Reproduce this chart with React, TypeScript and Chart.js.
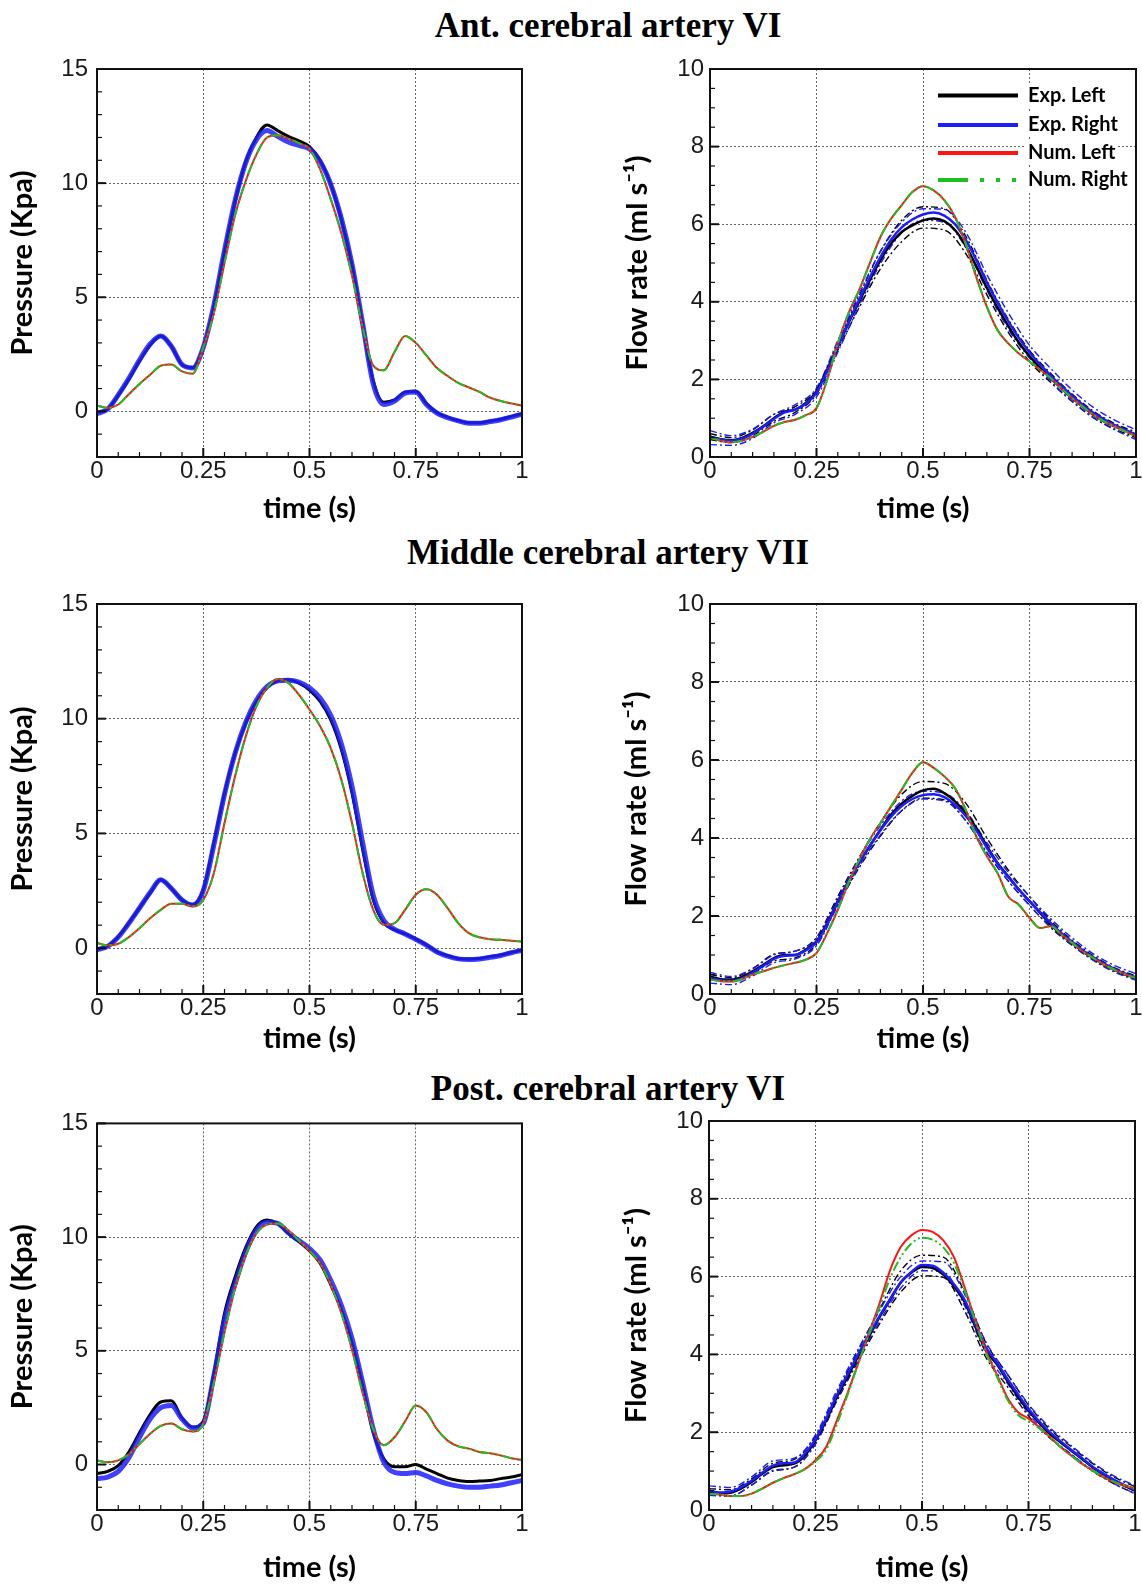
import React, { useEffect, useRef } from 'react';
import { Chart, registerables } from 'chart.js';
Chart.register(...registerables);

// ---------------- data ----------------
const TIME = [0, 0.025, 0.05, 0.075, 0.1, 0.125, 0.15, 0.175, 0.2, 0.225, 0.25, 0.275, 0.3, 0.325, 0.35, 0.375, 0.4, 0.425, 0.45, 0.475, 0.5, 0.525, 0.55, 0.575, 0.6, 0.625, 0.65, 0.675, 0.7, 0.725, 0.75, 0.775, 0.8, 0.825, 0.85, 0.875, 0.9, 0.925, 0.95, 0.975, 1];
const TIME_BAND = [0, 0.05, 0.1, 0.15, 0.2, 0.25, 0.3, 0.35, 0.4, 0.45, 0.5, 0.55, 0.6, 0.65, 0.7, 0.75, 0.8, 0.85, 0.9, 0.95, 1];

const TIME_TICKS = [0, 0.25, 0.5, 0.75, 1];
const PRESSURE_TICKS = [0, 5, 10, 15];
const FLOW_TICKS = [0, 2, 4, 6, 8, 10];

const ROW_TITLES = ['Ant. cerebral artery VI', 'Middle cerebral artery VII', 'Post. cerebral artery VI'];
const LEGEND_LABELS = ['Exp. Left', 'Exp. Right', 'Num. Left', 'Num. Right'];
const X_TITLE = 'time (s)';
const P_TITLE = 'Pressure (Kpa)';
const F_TITLE = 'Flow rate (ml s\u207B\u00B9)';

// Row 1 pressure
const P1_EXP_LEFT = [-0.05, 0.1, 0.7, 1.4, 2.2, 2.9, 3.3, 2.85, 2.05, 1.92, 2.8, 4.6, 7.0, 9.2, 10.95, 12.0, 12.55, 12.3, 12.05, 11.85, 11.6, 11.0, 9.95, 8.4, 6.4, 3.8, 1.35, 0.4, 0.5, 0.85, 0.88, 0.35, -0.05, -0.25, -0.4, -0.5, -0.5, -0.42, -0.35, -0.22, -0.1];
const P1_EXP_RIGHT = [-0.1, 0.1, 0.72, 1.45, 2.25, 2.95, 3.3, 2.85, 2.05, 1.9, 2.8, 4.65, 7.05, 9.25, 10.9, 11.9, 12.3, 12.05, 11.8, 11.65, 11.5, 10.95, 9.95, 8.45, 6.45, 3.85, 1.2, 0.3, 0.45, 0.8, 0.85, 0.3, -0.08, -0.28, -0.42, -0.52, -0.52, -0.45, -0.37, -0.25, -0.12];
const P1_NUM_LEFT = [0.25, 0.15, 0.3, 0.75, 1.2, 1.6, 2.0, 2.05, 1.75, 1.65, 2.8, 4.3, 6.5, 8.6, 10.1, 11.25, 12.0, 12.1, 11.95, 11.75, 11.5, 10.6, 9.3, 7.8, 5.95, 3.7, 2.0, 1.8, 2.6, 3.3, 3.0, 2.45, 1.9, 1.55, 1.25, 1.05, 0.85, 0.6, 0.45, 0.35, 0.25];
const P1_NUM_RIGHT = [0.25, 0.15, 0.3, 0.75, 1.2, 1.6, 2.0, 2.05, 1.75, 1.65, 2.8, 4.3, 6.5, 8.6, 10.1, 11.25, 12.0, 12.1, 11.95, 11.75, 11.5, 10.6, 9.3, 7.8, 5.95, 3.7, 2.0, 1.8, 2.6, 3.3, 3.0, 2.45, 1.9, 1.55, 1.25, 1.05, 0.85, 0.6, 0.45, 0.35, 0.25];

// Row 2 pressure
const P2_EXP_LEFT = [-0.05, 0.1, 0.5, 1.1, 1.75, 2.4, 2.98, 2.6, 2.1, 1.9, 2.55, 4.6, 6.75, 8.5, 9.8, 10.75, 11.35, 11.65, 11.7, 11.55, 11.25, 10.75, 9.95, 8.65, 6.75, 4.3, 2.1, 1.1, 0.8, 0.62, 0.4, 0.15, -0.15, -0.33, -0.45, -0.47, -0.45, -0.37, -0.3, -0.18, -0.08];
const P2_EXP_RIGHT = [-0.08, 0.08, 0.48, 1.08, 1.75, 2.42, 2.98, 2.6, 2.1, 1.88, 2.5, 4.5, 6.7, 8.5, 9.85, 10.8, 11.4, 11.65, 11.68, 11.6, 11.35, 10.9, 10.15, 8.9, 7.05, 4.6, 2.3, 1.2, 0.82, 0.62, 0.38, 0.13, -0.17, -0.35, -0.47, -0.5, -0.47, -0.4, -0.32, -0.2, -0.1];
const P2_NUM_LEFT = [0.22, 0.12, 0.19, 0.48, 0.87, 1.3, 1.67, 1.93, 1.93, 1.82, 2.1, 3.27, 5.45, 7.5, 9.23, 10.54, 11.34, 11.73, 11.56, 11.05, 10.4, 9.67, 8.72, 7.34, 5.45, 3.27, 1.67, 1.02, 1.09, 1.67, 2.33, 2.57, 2.33, 1.74, 1.09, 0.65, 0.47, 0.39, 0.36, 0.32, 0.29];
const P2_NUM_RIGHT = [0.22, 0.12, 0.19, 0.48, 0.87, 1.3, 1.67, 1.93, 1.93, 1.82, 2.1, 3.27, 5.45, 7.5, 9.23, 10.54, 11.34, 11.73, 11.56, 11.05, 10.4, 9.67, 8.72, 7.34, 5.45, 3.27, 1.67, 1.02, 1.09, 1.67, 2.33, 2.57, 2.33, 1.74, 1.09, 0.65, 0.47, 0.39, 0.36, 0.32, 0.29];

// Row 3 pressure
const P3_EXP_LEFT = [-0.4, -0.3, -0.05, 0.55, 1.4, 2.2, 2.75, 2.8, 2.05, 1.65, 1.9, 4.0, 6.65, 8.25, 9.55, 10.45, 10.75, 10.6, 10.15, 9.8, 9.4, 8.85, 7.9, 6.8, 5.35, 3.45, 1.4, 0.25, -0.1, -0.1, 0.0, -0.2, -0.4, -0.6, -0.7, -0.75, -0.73, -0.7, -0.62, -0.55, -0.45];
const P3_EXP_RIGHT = [-0.62, -0.55, -0.3, 0.3, 1.2, 2.0, 2.5, 2.6, 2.0, 1.6, 1.8, 3.9, 6.35, 7.95, 9.35, 10.3, 10.65, 10.6, 10.2, 9.85, 9.5, 9.0, 8.1, 7.0, 5.55, 3.6, 1.55, 0.1, -0.35, -0.4, -0.35, -0.5, -0.7, -0.85, -0.95, -1.0, -1.0, -0.95, -0.9, -0.8, -0.7];
const P3_NUM_LEFT = [0.18, 0.1, 0.18, 0.45, 0.9, 1.35, 1.7, 1.8, 1.55, 1.45, 1.8, 3.6, 5.8, 7.75, 9.2, 10.15, 10.55, 10.6, 10.3, 9.85, 9.4, 8.85, 7.9, 6.65, 5.05, 3.15, 1.55, 0.85, 1.2, 1.9, 2.6, 2.3, 1.55, 1.05, 0.8, 0.7, 0.55, 0.5, 0.4, 0.28, 0.2];
const P3_NUM_RIGHT = [0.18, 0.1, 0.18, 0.45, 0.9, 1.35, 1.7, 1.8, 1.55, 1.45, 1.8, 3.6, 5.8, 7.75, 9.2, 10.15, 10.55, 10.6, 10.3, 9.85, 9.4, 8.85, 7.9, 6.65, 5.05, 3.15, 1.55, 0.85, 1.2, 1.9, 2.6, 2.3, 1.55, 1.05, 0.8, 0.7, 0.55, 0.5, 0.4, 0.28, 0.2];

// Row 1 flow
const F1_EXP_LEFT = [0.53, 0.46, 0.43, 0.49, 0.62, 0.79, 1.0, 1.17, 1.22, 1.39, 1.69, 2.25, 2.85, 3.45, 4.0, 4.56, 5.07, 5.5, 5.8, 5.97, 6.1, 6.15, 6.08, 5.85, 5.45, 4.92, 4.36, 3.85, 3.38, 2.95, 2.6, 2.3, 2.03, 1.77, 1.52, 1.3, 1.09, 0.92, 0.79, 0.68, 0.57];
const F1_EXP_RIGHT = [0.5, 0.45, 0.42, 0.47, 0.6, 0.78, 0.98, 1.15, 1.22, 1.37, 1.66, 2.22, 2.85, 3.47, 4.05, 4.62, 5.15, 5.6, 5.92, 6.12, 6.25, 6.3, 6.22, 6.0, 5.6, 5.08, 4.5, 3.98, 3.5, 3.07, 2.7, 2.38, 2.1, 1.83, 1.58, 1.35, 1.14, 0.97, 0.82, 0.7, 0.58];
const F1_EXP_LEFT_HI = [0.6, 0.5, 0.7, 1.1, 1.3, 1.75, 2.95, 4.15, 5.3, 6.1, 6.45, 6.4, 5.7, 4.55, 3.55, 2.75, 2.15, 1.62, 1.18, 0.86, 0.64];
const F1_EXP_LEFT_LO = [0.45, 0.37, 0.55, 0.92, 1.15, 1.62, 2.75, 3.85, 4.85, 5.55, 5.9, 5.85, 5.25, 4.18, 3.22, 2.46, 1.92, 1.43, 1.01, 0.72, 0.5];
const F1_EXP_RIGHT_HI = [0.68, 0.55, 0.72, 1.1, 1.35, 1.78, 3.0, 4.2, 5.3, 6.05, 6.4, 6.38, 5.8, 4.7, 3.72, 2.88, 2.28, 1.73, 1.28, 0.95, 0.7];
const F1_EXP_RIGHT_LO = [0.32, 0.3, 0.48, 0.88, 1.1, 1.55, 2.7, 3.9, 4.98, 5.78, 6.1, 6.05, 5.4, 4.3, 3.3, 2.55, 1.95, 1.45, 1.02, 0.7, 0.45];
const F1_NUM_LEFT = [0.5, 0.42, 0.38, 0.42, 0.52, 0.65, 0.8, 0.9, 0.96, 1.08, 1.26, 1.99, 2.93, 3.7, 4.3, 4.99, 5.67, 6.14, 6.49, 6.83, 6.98, 6.87, 6.62, 6.19, 5.5, 4.64, 3.87, 3.27, 2.93, 2.67, 2.46, 2.25, 2.03, 1.77, 1.52, 1.3, 1.09, 0.92, 0.79, 0.66, 0.53];
const F1_NUM_RIGHT = [0.5, 0.42, 0.38, 0.42, 0.52, 0.65, 0.8, 0.9, 0.96, 1.08, 1.26, 1.99, 2.93, 3.7, 4.3, 4.99, 5.67, 6.14, 6.49, 6.83, 6.98, 6.87, 6.62, 6.19, 5.5, 4.64, 3.87, 3.27, 2.93, 2.67, 2.46, 2.25, 2.03, 1.77, 1.52, 1.3, 1.09, 0.92, 0.79, 0.66, 0.53];

// Row 2 flow
const F2_EXP_LEFT = [0.45, 0.38, 0.37, 0.44, 0.58, 0.75, 0.92, 1.0, 1.0, 1.14, 1.35, 1.82, 2.38, 2.89, 3.36, 3.79, 4.21, 4.6, 4.88, 5.08, 5.22, 5.26, 5.15, 4.94, 4.64, 4.26, 3.79, 3.36, 3.02, 2.68, 2.38, 2.08, 1.78, 1.52, 1.31, 1.09, 0.92, 0.75, 0.62, 0.5, 0.41];
const F2_EXP_RIGHT = [0.42, 0.35, 0.34, 0.4, 0.55, 0.72, 0.9, 0.98, 1.0, 1.12, 1.33, 1.8, 2.36, 2.88, 3.37, 3.8, 4.2, 4.55, 4.82, 5.0, 5.1, 5.12, 5.05, 4.85, 4.57, 4.2, 3.75, 3.34, 3.0, 2.68, 2.38, 2.1, 1.82, 1.56, 1.34, 1.12, 0.94, 0.78, 0.64, 0.52, 0.43];
const F2_EXP_LEFT_HI = [0.5, 0.42, 0.65, 1.02, 1.1, 1.45, 2.5, 3.5, 4.4, 5.12, 5.45, 5.4, 4.9, 4.0, 3.18, 2.5, 1.88, 1.38, 0.98, 0.67, 0.46];
const F2_EXP_LEFT_LO = [0.4, 0.33, 0.52, 0.85, 0.93, 1.28, 2.28, 3.24, 4.05, 4.7, 5.02, 4.98, 4.45, 3.62, 2.9, 2.28, 1.7, 1.25, 0.87, 0.58, 0.37];
const F2_EXP_RIGHT_HI = [0.55, 0.45, 0.65, 1.0, 1.1, 1.42, 2.45, 3.48, 4.32, 4.95, 5.2, 5.15, 4.7, 3.88, 3.12, 2.5, 1.93, 1.44, 1.03, 0.73, 0.52];
const F2_EXP_RIGHT_LO = [0.28, 0.24, 0.46, 0.8, 0.9, 1.24, 2.27, 3.27, 4.08, 4.7, 5.0, 4.95, 4.45, 3.63, 2.9, 2.27, 1.72, 1.25, 0.86, 0.56, 0.35];
const F2_NUM_LEFT = [0.37, 0.33, 0.32, 0.38, 0.5, 0.58, 0.67, 0.74, 0.8, 0.88, 1.05, 1.56, 2.16, 2.85, 3.44, 3.96, 4.38, 4.81, 5.24, 5.67, 5.94, 5.8, 5.58, 5.28, 4.73, 4.04, 3.53, 3.1, 2.5, 2.29, 1.95, 1.69, 1.74, 1.52, 1.31, 1.09, 0.92, 0.75, 0.62, 0.5, 0.41];
const F2_NUM_RIGHT = [0.37, 0.33, 0.32, 0.38, 0.5, 0.58, 0.67, 0.74, 0.8, 0.88, 1.05, 1.56, 2.16, 2.85, 3.44, 3.96, 4.38, 4.81, 5.24, 5.67, 5.94, 5.8, 5.58, 5.28, 4.73, 4.04, 3.53, 3.1, 2.5, 2.29, 1.95, 1.69, 1.74, 1.52, 1.31, 1.09, 0.92, 0.75, 0.62, 0.5, 0.41];

// Row 3 flow
const F3_EXP_LEFT = [0.46, 0.42, 0.44, 0.55, 0.72, 0.93, 1.1, 1.15, 1.19, 1.4, 1.79, 2.3, 2.9, 3.42, 3.95, 4.45, 4.95, 5.4, 5.85, 6.1, 6.25, 6.22, 6.05, 5.75, 5.35, 4.72, 4.1, 3.76, 3.33, 2.92, 2.55, 2.24, 1.96, 1.74, 1.53, 1.32, 1.1, 0.92, 0.76, 0.62, 0.5];
const F3_EXP_RIGHT = [0.5, 0.45, 0.47, 0.58, 0.75, 0.96, 1.14, 1.2, 1.22, 1.45, 1.82, 2.35, 2.95, 3.48, 4.0, 4.5, 4.98, 5.42, 5.85, 6.12, 6.3, 6.28, 6.1, 5.8, 5.4, 4.78, 4.18, 3.8, 3.38, 2.98, 2.6, 2.28, 2.0, 1.77, 1.55, 1.34, 1.12, 0.94, 0.78, 0.64, 0.52];
const F3_EXP_LEFT_HI = [0.55, 0.52, 0.8, 1.2, 1.3, 1.9, 3.0, 4.1, 5.15, 6.15, 6.55, 6.5, 5.6, 4.3, 3.5, 2.7, 2.08, 1.63, 1.2, 0.85, 0.6];
const F3_EXP_LEFT_LO = [0.38, 0.36, 0.64, 1.0, 1.1, 1.7, 2.8, 3.82, 4.78, 5.6, 6.02, 5.98, 5.12, 3.92, 3.18, 2.42, 1.85, 1.43, 1.0, 0.68, 0.42];
const F3_EXP_RIGHT_HI = [0.62, 0.58, 0.85, 1.26, 1.33, 1.93, 3.07, 4.13, 5.12, 6.0, 6.4, 6.38, 5.55, 4.32, 3.5, 2.72, 2.12, 1.66, 1.22, 0.88, 0.63];
const F3_EXP_RIGHT_LO = [0.38, 0.36, 0.64, 1.02, 1.1, 1.7, 2.83, 3.87, 4.84, 5.7, 6.15, 6.12, 5.25, 4.04, 3.26, 2.48, 1.88, 1.44, 1.02, 0.68, 0.42];
const F3_NUM_LEFT = [0.42, 0.4, 0.36, 0.36, 0.42, 0.55, 0.7, 0.82, 0.92, 1.05, 1.28, 1.62, 2.3, 3.0, 3.76, 4.53, 5.3, 6.16, 6.76, 7.06, 7.2, 7.15, 6.93, 6.5, 5.73, 4.88, 4.1, 3.5, 2.9, 2.52, 2.35, 2.13, 1.88, 1.62, 1.4, 1.19, 1.02, 0.85, 0.72, 0.63, 0.55];
const F3_NUM_RIGHT = [0.42, 0.4, 0.36, 0.36, 0.42, 0.55, 0.7, 0.82, 0.92, 1.05, 1.25, 1.55, 2.2, 2.95, 3.75, 4.5, 5.2, 5.95, 6.5, 6.85, 7.0, 6.95, 6.75, 6.35, 5.65, 4.85, 4.05, 3.45, 2.85, 2.45, 2.28, 2.1, 1.88, 1.62, 1.4, 1.2, 1.02, 0.86, 0.73, 0.63, 0.55];

// ---------------- styles ----------------
const C_BLACK = '#000000';
const C_BLUE = '#1c1cff';
const C_BLUE_P = 'rgba(30,30,255,0.85)';
const C_RED = '#ff1414';
const C_GREEN = '#1fbf1f';
const DASH_NUM_R = [10, 3, 2, 3, 2, 3];
const DASH_BAND = [7, 3, 2, 3];
const FONT_AXIS = 'Lato, "Open Sans", "DejaVu Sans", sans-serif';
const FONT_TICK = '"Liberation Sans", Arial, sans-serif';
const AXIS_TITLE_SIZE = 29;
const TICK_SIZE = 24;

type S = { t: number[]; v: number[]; color: string; width: number; dash?: number[]; order: number };

function pressureSeries(expL: number[], expR: number[], numL: number[], numR: number[]): S[] {
  return [
    { t: TIME, v: numR, color: C_GREEN, width: 2, dash: DASH_NUM_R, order: 1 },
    { t: TIME, v: numL, color: C_RED, width: 2, order: 2 },
    { t: TIME, v: expR, color: C_BLUE_P, width: 5, order: 3 },
    { t: TIME, v: expL, color: C_BLACK, width: 3, order: 4 },
  ];
}

function flowSeries(expL: number[], expR: number[], numL: number[], numR: number[], hiL: number[], loL: number[], hiR: number[], loR: number[]): S[] {
  return [
    { t: TIME, v: numR, color: C_GREEN, width: 2, dash: DASH_NUM_R, order: 1 },
    { t: TIME, v: numL, color: C_RED, width: 2, order: 2 },
    { t: TIME, v: expR, color: C_BLUE, width: 2.5, order: 3 },
    { t: TIME, v: expL, color: C_BLACK, width: 2.5, order: 4 },
    { t: TIME_BAND, v: hiR, color: C_BLUE, width: 1.4, dash: DASH_BAND, order: 5 },
    { t: TIME_BAND, v: loR, color: C_BLUE, width: 1.4, dash: DASH_BAND, order: 6 },
    { t: TIME_BAND, v: hiL, color: C_BLACK, width: 1.4, dash: DASH_BAND, order: 7 },
    { t: TIME_BAND, v: loL, color: C_BLACK, width: 1.4, dash: DASH_BAND, order: 8 },
  ];
}

type PanelSpec = {
  canvas: [number, number, number, number];
  plot: [number, number, number, number];
  kind: 'p' | 'f';
  series: S[];
  xTitleY: number;
  yTitleX: number;
  legend?: boolean;
};

const PANELS: PanelSpec[] = [
  { canvas: [0, 45, 560, 490], plot: [97, 69, 522, 457], kind: 'p', series: pressureSeries(P1_EXP_LEFT, P1_EXP_RIGHT, P1_NUM_LEFT, P1_NUM_RIGHT), xTitleY: 509, yTitleX: 23 },
  { canvas: [600, 45, 550, 490], plot: [710, 69, 1136, 457], kind: 'f', series: flowSeries(F1_EXP_LEFT, F1_EXP_RIGHT, F1_NUM_LEFT, F1_NUM_RIGHT, F1_EXP_LEFT_HI, F1_EXP_LEFT_LO, F1_EXP_RIGHT_HI, F1_EXP_RIGHT_LO), xTitleY: 509, yTitleX: 638, legend: true },
  { canvas: [0, 580, 560, 480], plot: [97, 604, 522, 994], kind: 'p', series: pressureSeries(P2_EXP_LEFT, P2_EXP_RIGHT, P2_NUM_LEFT, P2_NUM_RIGHT), xTitleY: 1039, yTitleX: 23 },
  { canvas: [600, 580, 550, 480], plot: [710, 604, 1136, 994], kind: 'f', series: flowSeries(F2_EXP_LEFT, F2_EXP_RIGHT, F2_NUM_LEFT, F2_NUM_RIGHT, F2_EXP_LEFT_HI, F2_EXP_LEFT_LO, F2_EXP_RIGHT_HI, F2_EXP_RIGHT_LO), xTitleY: 1039, yTitleX: 637 },
  { canvas: [0, 1100, 560, 485], plot: [97, 1122, 522, 1510], kind: 'p', series: pressureSeries(P3_EXP_LEFT, P3_EXP_RIGHT, P3_NUM_LEFT, P3_NUM_RIGHT), xTitleY: 1569, yTitleX: 23 },
  { canvas: [600, 1100, 550, 485], plot: [709, 1121, 1135, 1510], kind: 'f', series: flowSeries(F3_EXP_LEFT, F3_EXP_RIGHT, F3_NUM_LEFT, F3_NUM_RIGHT, F3_EXP_LEFT_HI, F3_EXP_LEFT_LO, F3_EXP_RIGHT_HI, F3_EXP_RIGHT_LO), xTitleY: 1571, yTitleX: 637 },
];

// ---------------- plugins ----------------
const framePlugin = {
  id: 'frameTicks',
  afterDatasetsDraw(chart: any, _args: any, opts: any) {
    const { ctx, chartArea: a } = chart;
    const xs = chart.scales.x;
    const ys = chart.scales.y;
    ctx.save();
    ctx.setLineDash([]);
    ctx.strokeStyle = '#111';
    const drawTick = (x1: number, y1: number, x2: number, y2: number, w: number) => {
      ctx.lineWidth = w;
      ctx.beginPath();
      ctx.moveTo(x1, y1);
      ctx.lineTo(x2, y2);
      ctx.stroke();
    };
    (opts.xTicks || []).forEach((t: any) => {
      const px = xs.getPixelForValue(t.v);
      drawTick(px, a.bottom, px, a.bottom - (t.major ? 9 : 5), t.major ? 2 : 1.2);
    });
    (opts.yTicks || []).forEach((t: any) => {
      const py = ys.getPixelForValue(t.v);
      drawTick(a.left, py, a.left + (t.major ? 9 : 5), py, t.major ? 2 : 1.2);
    });
    ctx.lineWidth = 2;
    ctx.strokeRect(a.left, a.top, a.right - a.left, a.bottom - a.top);
    ctx.restore();
  },
};

const legendPlugin = {
  id: 'innerLegend',
  afterDraw(chart: any, _args: any, opts: any) {
    if (!opts || !opts.items) return;
    const { ctx, chartArea: a } = chart;
    const rows = [26.5, 56, 84, 111];
    ctx.save();
    ctx.font = `bold 20px ${FONT_AXIS}`;
    ctx.textBaseline = 'middle';
    ctx.textAlign = 'left';
    opts.items.forEach((it: any, i: number) => {
      const y = a.top + rows[i];
      const x0 = a.right - 198;
      const x1 = a.right - 118;
      const tx = a.right - 108;
      const w = ctx.measureText(it.label).width;
      ctx.fillStyle = '#ffffff';
      ctx.fillRect(tx - 2, y - 12, w + 4, 24);
      ctx.strokeStyle = it.color;
      ctx.lineWidth = 4;
      ctx.lineCap = 'butt';
      ctx.setLineDash(it.dash || []);
      ctx.beginPath();
      ctx.moveTo(x0, y);
      ctx.lineTo(x1, y);
      ctx.stroke();
      ctx.setLineDash([]);
      ctx.fillStyle = '#000';
      ctx.fillText(it.label, tx, y);
    });
    ctx.restore();
  },
};

function buildConfig(spec: PanelSpec): any {
  const [cx, cy, cw, ch] = spec.canvas;
  const [L, T, R, B] = spec.plot;
  const isP = spec.kind === 'p';
  const LH = AXIS_TITLE_SIZE * 1.2;
  const xPadB = Math.max(0, cy + ch - spec.xTitleY - LH / 2);
  const yPadT = Math.max(0, spec.yTitleX - cx - LH / 2);
  const yTicksMajor = isP ? PRESSURE_TICKS : FLOW_TICKS;

  const xTickMarks: { v: number; major: boolean }[] = [];
  for (let i = 0; i <= 20; i++) xTickMarks.push({ v: i / 20, major: i % 5 === 0 });
  const yTickMarks: { v: number; major: boolean }[] = [];
  if (isP) {
    for (let v = -2; v <= 15; v++) yTickMarks.push({ v, major: v % 5 === 0 });
  } else {
    for (let i = 0; i <= 20; i++) yTickMarks.push({ v: i / 2, major: i % 4 === 0 });
  }

  const legendItems = spec.legend
    ? [
        { label: LEGEND_LABELS[0], color: C_BLACK },
        { label: LEGEND_LABELS[1], color: C_BLUE },
        { label: LEGEND_LABELS[2], color: C_RED },
        { label: LEGEND_LABELS[3], color: C_GREEN, dash: [30, 12, 4, 12, 4, 12, 4, 100] },
      ]
    : null;

  return {
    type: 'line',
    data: {
      datasets: spec.series.map((s) => ({
        data: s.t.map((x, i) => ({ x, y: s.v[i] })),
        borderColor: s.color,
        borderWidth: s.width,
        borderDash: s.dash || [],
        pointRadius: 0,
        fill: false,
        cubicInterpolationMode: 'monotone',
        order: s.order,
      })),
    },
    options: {
      animation: false,
      responsive: false,
      events: [],
      layout: { padding: { left: 0, top: T - cy, right: cx + cw - R, bottom: 0 } },
      plugins: {
        legend: { display: false },
        tooltip: { enabled: false },
        frameTicks: { xTicks: xTickMarks, yTicks: yTickMarks },
        innerLegend: legendItems ? { items: legendItems } : {},
      },
      scales: {
        x: {
          type: 'linear',
          min: 0,
          max: 1,
          afterBuildTicks: (s: any) => {
            s.ticks = TIME_TICKS.map((v) => ({ value: v }));
          },
          afterFit: (s: any) => {
            s.height = cy + ch - B;
          },
          ticks: {
            font: { family: FONT_TICK, size: TICK_SIZE },
            color: '#1a1a1a',
            padding: 0,
            maxRotation: 0,
            autoSkip: false,
            callback: (v: any) => String(v),
          },
          grid: { color: '#666', lineWidth: 1, drawTicks: false },
          border: { display: false, dash: [2, 2] },
          title: {
            display: true,
            text: X_TITLE,
            color: '#000',
            font: { family: FONT_AXIS, size: AXIS_TITLE_SIZE, weight: 'bold' },
            padding: { top: 0, bottom: xPadB },
          },
        },
        y: {
          type: 'linear',
          min: isP ? -2 : 0,
          max: isP ? 15 : 10,
          afterBuildTicks: (s: any) => {
            s.ticks = yTicksMajor.map((v) => ({ value: v }));
          },
          afterFit: (s: any) => {
            s.width = L - cx;
          },
          ticks: {
            font: { family: FONT_TICK, size: TICK_SIZE },
            color: '#1a1a1a',
            padding: isP ? 9 : 6,
            autoSkip: false,
            callback: (v: any) => String(v),
          },
          grid: { color: '#666', lineWidth: 1, drawTicks: false },
          border: { display: false, dash: [2, 2] },
          title: {
            display: true,
            text: isP ? P_TITLE : F_TITLE,
            color: '#000',
            font: { family: FONT_AXIS, size: AXIS_TITLE_SIZE, weight: 'bold' },
            padding: { top: yPadT, bottom: 0 },
          },
        },
      },
    },
    plugins: [framePlugin, legendPlugin],
  };
}

function Panel({ spec }: { spec: PanelSpec }) {
  const ref = useRef<HTMLCanvasElement>(null);
  useEffect(() => {
    if (!ref.current) return;
    const chart = new Chart(ref.current, buildConfig(spec));
    return () => chart.destroy();
  }, [spec]);
  const [cx, cy, cw, ch] = spec.canvas;
  return (
    <canvas
      ref={ref}
      width={cw}
      height={ch}
      style={{ position: 'absolute', left: cx, top: cy, width: cw, height: ch }}
    />
  );
}

const TITLE_TOPS = [7.5, 535, 1071];

export default function App() {
  return (
    <div
      style={{
        position: 'absolute',
        left: 0,
        top: 0,
        width: 1142,
        height: 1585,
        overflow: 'hidden',
        background: '#ffffff',
      }}
    >
      {ROW_TITLES.map((t, i) => (
        <div
          key={t}
          style={{
            position: 'absolute',
            left: 108,
            width: 1000,
            top: TITLE_TOPS[i],
            textAlign: 'center',
            fontFamily: '"Liberation Serif", "Times New Roman", serif',
            fontWeight: 'bold',
            fontSize: 35,
            lineHeight: '35px',
            color: '#000',
            whiteSpace: 'nowrap',
          }}
        >
          {t}
        </div>
      ))}
      {PANELS.map((p, i) => (
        <Panel key={i} spec={p} />
      ))}
    </div>
  );
}
